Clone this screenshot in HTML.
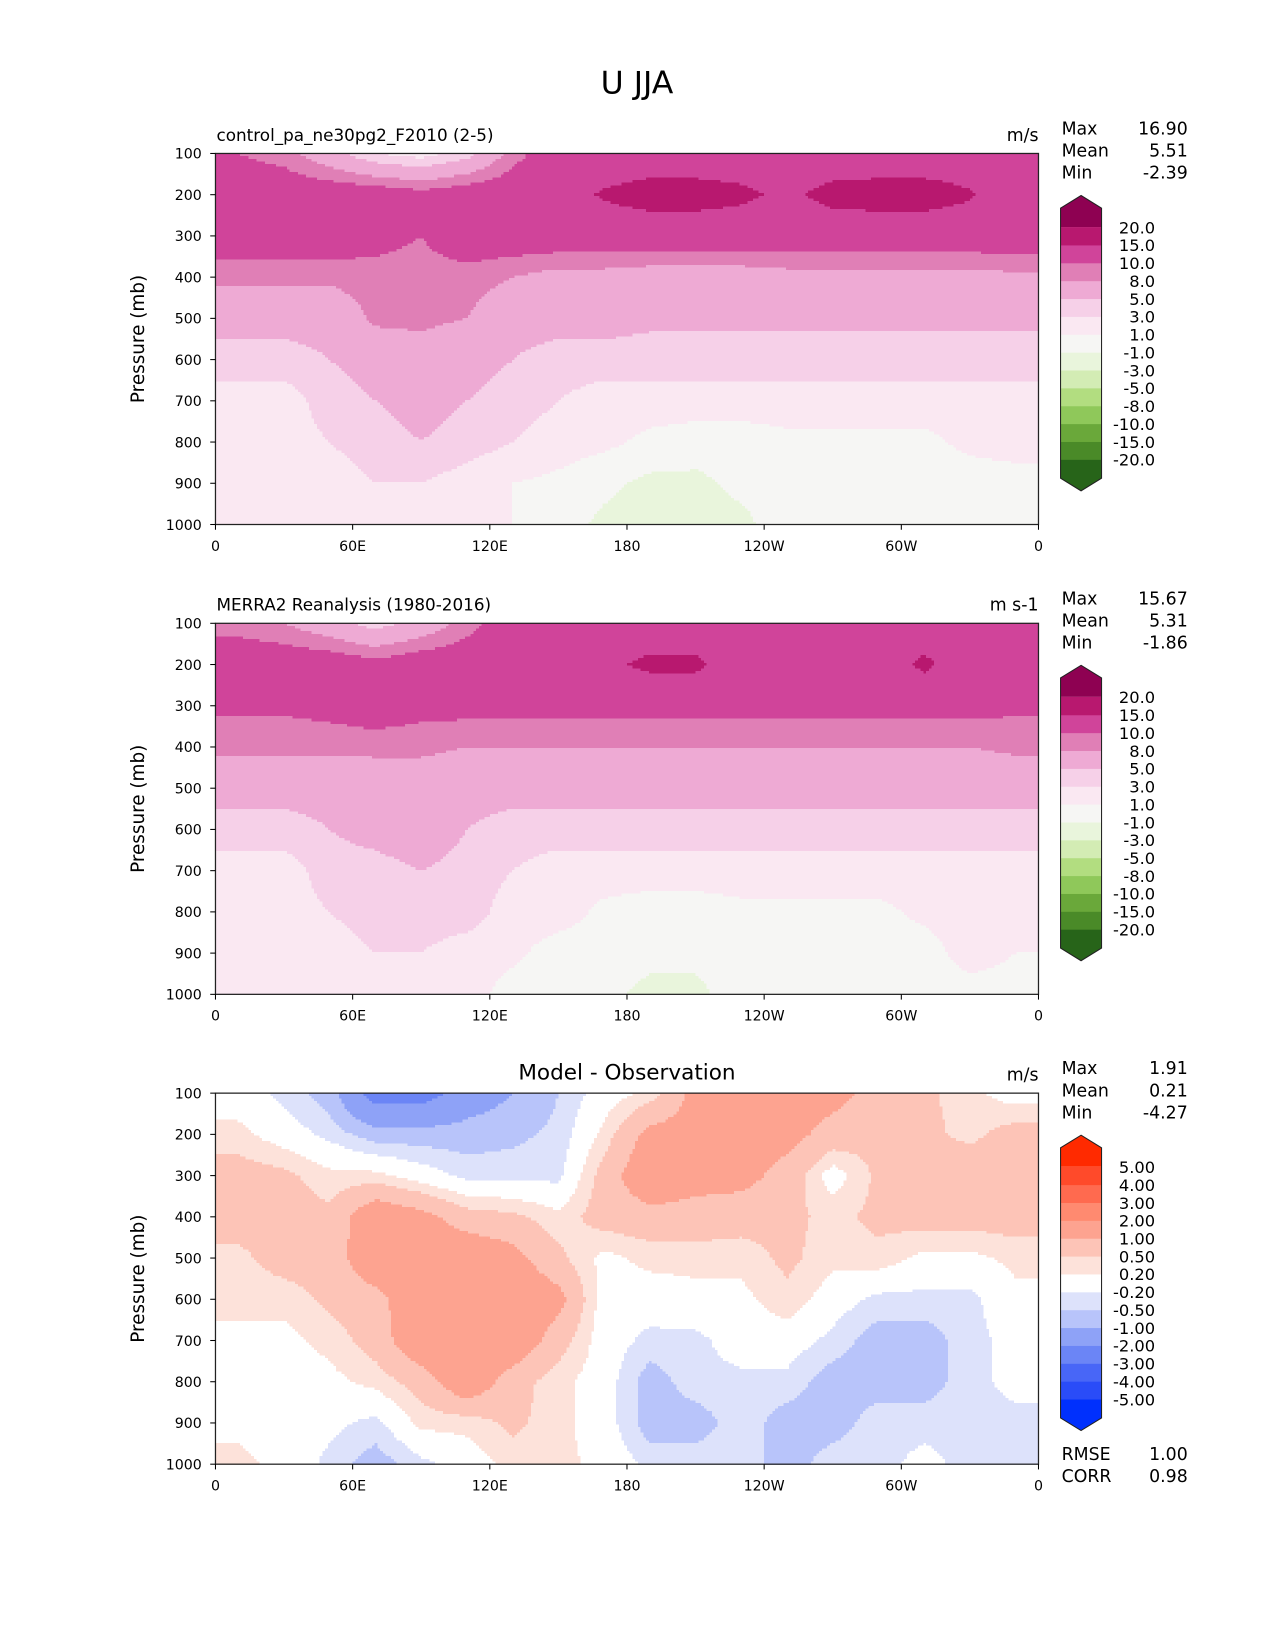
<!DOCTYPE html>
<html><head><meta charset="utf-8"><style>
body{margin:0;background:#fff;}
svg{display:block;font-family:"DejaVu Sans","Liberation Sans",sans-serif;}
</style></head><body>
<svg width="1275" height="1650" viewBox="0 0 1275 1650">
<g id="fig" transform="scale(1.0511)">
<text x="606" y="89" font-size="30" text-anchor="middle">U JJA</text>
</g>
</svg>
<script>
// ---- data ----
const lonCenters = [10,30,50,70,90,110,130,150,170,190,210,230,250,270,290,310,330,350];
const presLevels = [100,200,300,400,500,600,700,800,900,1000];
const xTickLabels = ["0","60E","120E","180","120W","60W","0"];
const xTickLons = [0,60,120,180,240,300,360];
const yTicks = [100,200,300,400,500,600,700,800,900,1000];
const fieldLevels = [-20,-15,-10,-8,-5,-3,-1,1,3,5,8,10,15,20];
const fieldColors = ["#276419","#4a8a28","#6aa83a","#8fc85a","#b2dd80","#d3ecb4","#e9f5dc","#f6f6f4","#fae8f2","#f6d0e8","#eeaad4","#e07fb6","#d0449a","#b8186f","#8e0152"];
const diffLevels = [-5,-4,-3,-2,-1,-0.5,-0.2,0.2,0.5,1,2,3,4,5];
const diffColors = ["#0030fd","#2a4cf8","#4866f7","#6b85f6","#8ea2f7","#b8c4fa","#dde2fb","#ffffff","#fde2da","#fdc4b7","#fda390","#ff8a70","#ff6a4f","#ff4a2a","#ff2a00"];
const modelU = [
[10,9,6,3,2,4,9,12,12,12,12,12,12,12,12,12,12,12],
[12,12,12,12,11,12,12,13,15.5,17,17,16,14,16.5,17,17,15.5,12],
[12,12,12,11,10,12,12,12,12,12,12,12,12,12,12,12,12,12],
[8.5,8.5,8.5,9,9,9,8,7,7,6.5,6.5,6.5,7,7,7,7,7,7.5],
[6,6,6,8.5,8.5,8,6,6,6,5.5,5.5,5.5,5.5,5.5,5.5,5.5,5.5,5.5],
[4,4,5,6,7,6,5,4,4,4,4,4,4,4,4,4,4,4],
[2,2,4,5,6,5,4,3,2,2,2,2,2,2,2,2,2,2],
[2,2,3,4,5,4,3,2,1.5,0.5,0,0,0.5,0.5,0.5,0.5,1.5,2],
[1.5,2,2,3,3,2,1,0.5,-0.5,-1.5,-1.5,-0.5,0,0,0,0,0,0],
[1,3,1.5,1.5,1.5,1,1,0,-1.5,-2,-2,-1.5,0,0,0,0,-1,0]];
const obsU = [
[9,8,6,4,6,9,12,12,12,12,12,12,12,12,12,12,12,12],
[12,12,12,11,12,12,12,12,14,16,16,12,12,12,12,16,12,12],
[10.5,10.5,11,12,11,11,11,11,11,11,11,11,11,11,11,11,11,10.5],
[8.5,8.5,8.5,8.5,8.5,8,8,8,8,8,8,8,8,8,8,8,8,8.5],
[6,6,6,6.5,6.5,6,6,6,6,6,6,6,6,6,6,6,6,6],
[4,4,5,6,7,5,4,4,4,4,4,4,4,4,4,4,4,4],
[2,2,4,4,5,4,3,2,2,2,2,2,2,2,2,2,2,2],
[2,2,3,4,4,4,2,2,0.5,0,0,0.5,0.5,0.5,0.5,1.5,2,2],
[2,2,2,3,3,2,1.5,0,0,-0.5,-0.5,0,0,0,0,0,2,1],
[2,3,2,2,2,2,0,0,-0.5,-1.5,-1.5,0,0,0,0,0,0,0]];
const diffU = [
[0,-0.3,-0.7,-2.5,-2.5,-1.5,-1,-0.5,0,0.3,1.2,1.2,1.2,1.2,0.8,0.6,0.3,0],
[0.3,0,-0.3,-0.7,-0.7,-0.7,-0.6,-0.4,0.3,1.2,1.2,1.2,1.2,0.8,0.6,0.6,0.4,0.7],
[0.7,0.6,0.3,0.3,0,-0.3,-0.3,-0.3,0.7,1.5,1.2,1.2,0.8,0,0.6,0.8,0.8,0.7],
[0.7,0.7,0.6,1.5,1.2,0.7,0.6,0.3,0.7,0.8,0.8,0.7,0.6,0.4,0.6,0.7,0.7,0.7],
[0.4,0.7,0.7,1.5,1.5,1.5,1.2,0.6,0.1,0.3,0.3,0.3,0.6,0.3,0.4,0.1,0.1,0.3],
[0.3,0.3,0.6,0.8,1.5,1.5,1.5,1.2,0,0,0.1,0.1,0.4,0,-0.3,-0.3,-0.3,0.1],
[0.1,0.1,0.3,0.7,1.5,1.5,1.5,0.7,0,-0.3,-0.3,0,0,-0.3,-0.7,-0.7,-0.3,-0.1],
[0,0,0.1,0.3,0.7,1.5,0.7,0.3,0,-0.7,-0.3,-0.3,-0.3,-0.7,-0.7,-0.7,-0.3,-0.1],
[0.1,0,-0.1,-0.3,0.3,0.3,0.6,0.3,0,-0.7,-0.7,-0.3,-0.7,-0.7,-0.3,-0.3,-0.3,-0.3],
[0.3,0.1,-0.3,-0.7,-0.3,0,0.3,0.3,0.1,-0.3,-0.3,-0.3,-0.7,-0.3,-0.3,-0.1,-0.3,-0.3]];
const stats1 = ["16.90","5.51","-2.39"];
const stats2 = ["15.67","5.31","-1.86"];
const stats3 = ["1.91","0.21","-4.27"];
const fieldTickLabels = ["-20.0","-15.0","-10.0","-8.0","-5.0","-3.0","-1.0","1.0","3.0","5.0","8.0","10.0","15.0","20.0"];
const diffTickLabels = ["-5.00","-4.00","-3.00","-2.00","-1.00","-0.50","-0.20","0.20","0.50","1.00","2.00","3.00","4.00","5.00"];

const NS="http://www.w3.org/2000/svg";
const fig=document.getElementById('fig');
function mk(tag,attrs,parent,text){const e=document.createElementNS(NS,tag);for(const k in attrs)e.setAttribute(k,attrs[k]);if(text!==undefined)e.textContent=text;(parent||fig).appendChild(e);return e;}
const X0=205,X1=988;
function xScale(lon){return X0+(X1-X0)*lon/360;}
function colorFor(v,levels,colors){let i=0;while(i<levels.length&&v>=levels[i])i++;return colors[i];}
function sample(data,lon,p){
  let fx=(lon-10)/20; fx=Math.max(0,Math.min(lonCenters.length-1,fx));
  let fy=(p-100)/100; fy=Math.max(0,Math.min(presLevels.length-1,fy));
  const i0=Math.floor(fx),i1=Math.min(i0+1,lonCenters.length-1),tx=fx-i0;
  const j0=Math.floor(fy),j1=Math.min(j0+1,presLevels.length-1),ty=fy-j0;
  const a=data[j0][i0]*(1-tx)+data[j0][i1]*tx;
  const b=data[j1][i0]*(1-tx)+data[j1][i1]*tx;
  return a*(1-ty)+b*ty;
}
function panel(top,data,levels,colors,title,units,stats,tickLabels,idx,centerTitle){
  const Y0=top,Y1=top+353;
  const yScale=p=>Y0+(Y1-Y0)*(p-100)/900;
  const g=mk('g',{},fig);
  
  
  const field=mk('g',{'shape-rendering':'crispEdges'},g);
  
  
  const NX=300,NY=140;
  for(let r=0;r<NY;r++){
    const p0=100+900*r/NY,p1=100+900*(r+1)/NY,pc=(p0+p1)/2;
    let start=0,cur=null;
    for(let c=0;c<=NX;c++){
      let col=null;
      if(c<NX){const lon=360*(c+0.5)/NX;col=colorFor(sample(data,lon,pc),levels,colors);}
      if(col!==cur){
        if(cur!==null){
          const xa=xScale(360*start/NX),xb=xScale(360*c/NX);
          const rc=mk('rect',{x:xa.toFixed(2),y:yScale(p0).toFixed(2),width:(xb-xa+0.6).toFixed(2),height:(yScale(p1)-yScale(p0)+0.6).toFixed(2),fill:cur},field);
          
          
        }
        cur=col;start=c;
      }
    }
  }
  const fr=mk('rect',{x:X0,y:Y0,width:X1-X0,height:Y1-Y0,fill:'none',stroke:'#222','stroke-width':1.2},g);
  
  yTicks.forEach(p=>{
    const y=yScale(p);
    mk('line',{x1:X0-5,y1:y,x2:X0,y2:y,stroke:'#000'},g);
    const t=mk('text',{x:X0-13,y:y+5,'font-size':13.5,'text-anchor':'end'},g,String(p));
    
  });
  xTickLons.forEach((lon,i)=>{
    const x=xScale(lon);
    mk('line',{x1:x,y1:Y1,x2:x,y2:Y1+5,stroke:'#000'},g);
    const t=mk('text',{x:x,y:Y1+25,'font-size':13.5,'text-anchor':'middle'},g,xTickLabels[i]);
    
  });
  const yl=mk('text',{x:0,y:0,'font-size':17.5,'text-anchor':'middle',transform:`translate(137,${(Y0+Y1)/2}) rotate(-90)`},g,'Pressure (mb)');
  
  const tt=centerTitle?mk('text',{x:(X0+X1)/2,y:Y0-13,'font-size':20.5,'text-anchor':'middle'},g,title):mk('text',{x:X0+1,y:Y0-12,'font-size':16},g,title);
  
  const ut=mk('text',{x:X1,y:Y0-12,'font-size':16.5,'text-anchor':'end'},g,units);
  
  ["Max","Mean","Min"].forEach((n,i)=>{
    const a=mk('text',{x:1010,y:Y0-18+i*21,'font-size':16.5},g,n);
    
    const b=mk('text',{x:1130,y:Y0-18+i*21,'font-size':16.5,'text-anchor':'end'},g,stats[i]);
    
  });
  const cb=mk('g',{},g);
  
  const cx0=1009,cx1=1048,cTop=Y0+70,cBot=Y0+291;
  const n=levels.length-1,seg=(cBot-cTop)/n;
  const tri=mk('polygon',{points:`${(cx0+cx1)/2},${cTop-30} ${cx1},${cTop-18} ${cx1},${cTop} ${cx0},${cTop} ${cx0},${cTop-18}`,fill:colors[colors.length-1]},cb);
  
  const tri2=mk('polygon',{points:`${cx0},${cBot} ${cx1},${cBot} ${cx1},${cBot+18} ${(cx0+cx1)/2},${cBot+30} ${cx0},${cBot+18}`,fill:colors[0]},cb);
  
  for(let k=0;k<n;k++){
    const y=cBot-(k+1)*seg;
    const s=mk('rect',{x:cx0,y:y,width:cx1-cx0,height:seg+0.5,fill:colors[k+1]},cb);
    
  }
  mk('polygon',{points:`${(cx0+cx1)/2},${cTop-30} ${cx1},${cTop-18} ${cx1},${cBot+18} ${(cx0+cx1)/2},${cBot+30} ${cx0},${cBot+18} ${cx0},${cTop-18}`,fill:'none',stroke:'#222','stroke-width':1},cb);
  tickLabels.forEach((lab,k)=>{
    const y=cBot-k*seg;
    const t=mk('text',{x:1099,y:y+6,'font-size':15.5,'text-anchor':'end'},cb,lab);
    
  });
}
panel(146,modelU,fieldLevels,fieldColors,"control_pa_ne30pg2_F2010 (2-5)","m/s",stats1,fieldTickLabels,1,false);
panel(593,obsU,fieldLevels,fieldColors,"MERRA2 Reanalysis (1980-2016)","m s-1",stats2,fieldTickLabels,2,false);
panel(1040,diffU,diffLevels,diffColors,"Model - Observation","m/s",stats3,diffTickLabels,3,true);
[["RMSE","1.00",1389],["CORR","0.98",1410]].forEach(r=>{
  const a=mk('text',{x:1010,y:r[2],'font-size':16.5},fig,r[0]);
  
  const b=mk('text',{x:1130,y:r[2],'font-size':16.5,'text-anchor':'end'},fig,r[1]);
  
});
</script>
</body></html>
